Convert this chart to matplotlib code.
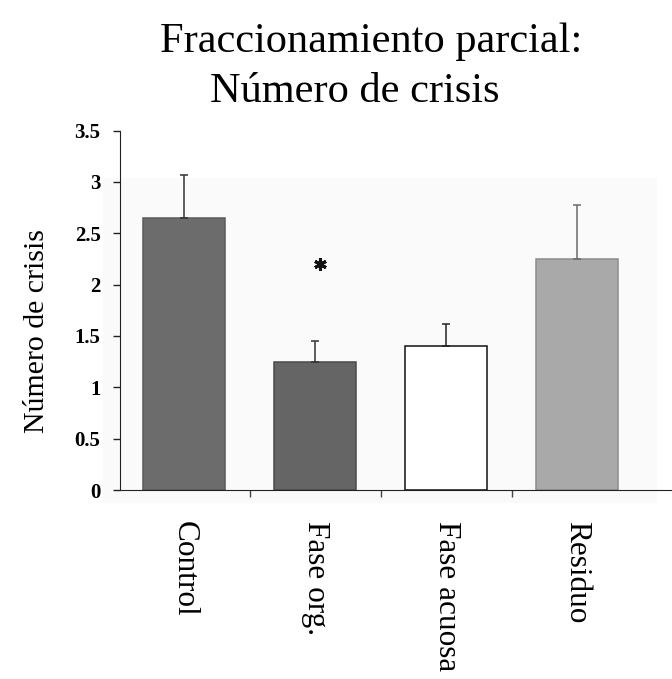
import matplotlib
matplotlib.use("Agg")
import matplotlib.pyplot as plt
from matplotlib.patches import Rectangle
from matplotlib.ticker import FuncFormatter

# Data
categories = ["Control", "Fase org.", "Fase acuosa", "Residuo"]
means = [2.65, 1.25, 1.40, 2.25]
errors = [0.42, 0.20, 0.22, 0.52]
significant = [False, True, False, False]
star_level = 2.2
yticks = [0, 0.5, 1, 1.5, 2, 2.5, 3, 3.5]

face_colors = ["#6c6c6c", "#656565", "#ffffff", "#a9a9a9"]
edge_colors = ["#5a5a5a", "#4a4a4a", "#111111", "#8c8c8c"]
err_colors = ["#333333", "#333333", "#222222", "#6a6a6a"]

plt.rcParams["font.family"] = ["Liberation Serif", "DejaVu Serif"]

fig = plt.figure(figsize=(6.72, 6.79), dpi=100)
fig.patch.set_facecolor("white")

# faint panel behind the plot region
fig.patches.append(Rectangle((103 / 672, 1 - 503 / 679), (657 - 103) / 672, (503 - 178) / 679,
                             transform=fig.transFigure, facecolor="#fafafa",
                             edgecolor="none", zorder=-5))

ax = fig.add_axes([120 / 672, 1 - 490 / 679, 1 - 120 / 672, (490 - 130.5) / 679])
ax.set_zorder(2)
ax.patch.set_alpha(0)

x = list(range(len(categories)))
ax.bar(x, means, width=0.625, color=face_colors, edgecolor=edge_colors,
       linewidth=1.1, zorder=2)
for xi, m, e, c in zip(x, means, errors, err_colors):
    ax.errorbar([xi], [m], yerr=[[0], [e]], fmt="none", ecolor=c,
                elinewidth=1.1, capsize=3, capthick=1.1, zorder=3)

for xi, s in zip(x, significant):
    if s:
        ax.plot([xi + 0.04], [star_level], marker=(6, 2, 0), markersize=9,
                color="#111111", markeredgewidth=2.2, zorder=4)

ax.set_xlim(-0.489, 3.725)
ax.set_ylim(0, 3.5)

ax.spines["top"].set_visible(False)
ax.spines["right"].set_visible(False)
ax.spines["left"].set_color("#222222")
ax.spines["bottom"].set_color("#222222")

ax.set_yticks(yticks)
ax.yaxis.set_major_formatter(FuncFormatter(lambda v, p: f"{v:g}"))
ax.tick_params(axis="y", direction="out", length=5, width=1, pad=9,
               labelsize=15, color="#222222")
for lab in ax.get_yticklabels():
    lab.set_fontweight("bold")

ax.set_xticks(x)
ax.set_xticklabels(categories, rotation=270, fontsize=22.5, va="top", ha="center")
ax.tick_params(axis="x", which="major", length=0, pad=22)
ax.set_xticks([0.5, 1.5, 2.5], minor=True)
ax.tick_params(axis="x", which="minor", direction="out", length=5, width=1,
               color="#444444")

fig.text(37 / 672, 1 - 331 / 679, "Número de crisis", fontsize=21.5,
         rotation=90, ha="center", va="center")

fig.text(371 / 672, 1 - 42 / 679, "Fraccionamiento parcial:", fontsize=30.5,
         ha="center", va="center")
fig.text(355 / 672, 1 - 92 / 679, "Número de crisis", fontsize=30.5,
         ha="center", va="center")

fig.savefig("out.png", dpi=100)
